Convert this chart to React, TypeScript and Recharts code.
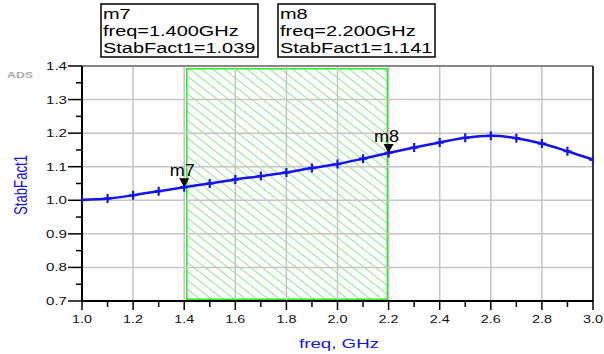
import React from 'react';
import { LineChart, Line, XAxis, YAxis, ReferenceLine, ReferenceArea, ReferenceDot } from 'recharts';

const freqs = [1.0, 1.1, 1.2, 1.3, 1.4, 1.5, 1.6, 1.7, 1.8, 1.9, 2.0, 2.1, 2.2, 2.3, 2.4, 2.5, 2.6, 2.7, 2.8, 2.9, 3.0];
const stabFact = [1.001, 1.005, 1.015, 1.027, 1.039, 1.050, 1.062, 1.072, 1.083, 1.096, 1.108, 1.124, 1.141, 1.157, 1.172, 1.186, 1.192, 1.185, 1.169, 1.146, 1.121];

const markerNames = ['m7', 'm8'];
const markerFreqs = [1.4, 2.2];
const markerValues = [1.039, 1.141];

const xMajorTicks = [1.0, 1.2, 1.4, 1.6, 1.8, 2.0, 2.2, 2.4, 2.6, 2.8, 3.0];
const xMinorTicks = [1.1, 1.3, 1.5, 1.7, 1.9, 2.1, 2.3, 2.5, 2.7, 2.9];
const yMajorTicks = [0.7, 0.8, 0.9, 1.0, 1.1, 1.2, 1.3, 1.4];
const yMinorTicks = [0.75, 0.85, 0.95, 1.05, 1.15, 1.25, 1.35];

const bandX = [1.41, 2.195];
const bandY = [0.705, 1.392];

const data = freqs.map((f, i) => ({ freq: f, stab: stabFact[i] }));
const xTicks = [...xMajorTicks, ...xMinorTicks].sort((a, b) => a - b);
const yTicks = [...yMajorTicks, ...yMinorTicks].sort((a, b) => a - b);

const FONT = '"Liberation Sans", Arial, sans-serif';
const BLUE = '#1414f0';

const isMajor = (arr: number[], v: number) => arr.some((t) => Math.abs(t - v) < 1e-6);

const XTick = (props: any) => {
  const { x, y, payload } = props;
  const v = payload.value as number;
  const major = isMajor(xMajorTicks, v);
  return (
    <g>
      <line x1={x} x2={x} y1={y} y2={y + (major ? 9 : 6)} stroke="#000" strokeWidth={1.5} />
      {major && (
        <text x={x} y={y + 22} textAnchor="middle" fontSize={11} fontFamily={FONT} fill="#111"
          textLength={20} lengthAdjust="spacingAndGlyphs">{v.toFixed(1)}</text>
      )}
    </g>
  );
};

const YTick = (props: any) => {
  const { x, y, payload } = props;
  const v = payload.value as number;
  const major = isMajor(yMajorTicks, v);
  return (
    <g>
      <line x1={x - (major ? 14 : 6)} x2={x} y1={y} y2={y} stroke="#000" strokeWidth={1.5} />
      {major && (
        <text x={x - 15} y={y + 4} textAnchor="end" fontSize={11} fontFamily={FONT} fill="#111"
          textLength={21} lengthAdjust="spacingAndGlyphs">{v.toFixed(1)}</text>
      )}
    </g>
  );
};

const PlusDot = (p: any) => {
  if (p.cx == null || p.cy == null) return <g key={p.index} />;
  return (
    <path key={p.index} d={`M${p.cx - 4},${p.cy}H${p.cx + 4}M${p.cx},${p.cy - 4.5}V${p.cy + 4.5}`}
      stroke={BLUE} strokeWidth={2.2} fill="none" />
  );
};

const markerShape = (name: string) => (p: any) => (
  <g>
    <path d={`M${p.cx},${p.cy} L${p.cx - 5},${p.cy - 9} L${p.cx + 5},${p.cy - 9} Z`} fill="#000" />
    <text x={p.cx - 2} y={p.cy - 11} textAnchor="middle" fontSize={16} fontFamily={FONT} fill="#000"
      textLength={25} lengthAdjust="spacingAndGlyphs">{name}</text>
  </g>
);

const MarkerBox = ({ left, name, freq, value }: { left: number; name: string; freq: number; value: number }) => (
  <g>
    <rect x={left} y={4} width={157} height={53} fill="#fff" stroke="#000" strokeWidth={1.5} />
    <g transform={`translate(${left + 2},0) scale(1.33,1)`} fontFamily={FONT} fontSize={15} fill="#000">
      <text x={0} y={19.5}>{name}</text>
      <text x={0} y={36.5}>{`freq=${freq.toFixed(3)}GHz`}</text>
      <text x={0} y={53}>{`StabFact1=${value.toFixed(3)}`}</text>
    </g>
  </g>
);

export default function App() {
  return (
    <div style={{ position: 'absolute', left: 0, top: 0, width: 604, height: 354, background: '#fff' }}>
      <svg width={0} height={0} style={{ position: 'absolute' }}>
        <defs>
          <pattern id="hatch" patternUnits="userSpaceOnUse" width={7} height={7} patternTransform="rotate(38)">
            <line x1={0} y1={0.5} x2={7} y2={0.5} stroke="#8ee88e" strokeWidth={1} />
          </pattern>
        </defs>
      </svg>
      <LineChart width={604} height={354} data={data} margin={{ top: 66, right: 11, bottom: 0, left: 0 }}>
        <XAxis dataKey="freq" type="number" domain={[1, 3]} ticks={xTicks} interval={0}
          tick={<XTick />} tickLine={false} tickSize={0} tickMargin={0} height={53}
          axisLine={{ stroke: '#000', strokeWidth: 2 }} allowDataOverflow />
        <YAxis type="number" domain={[0.7, 1.4]} ticks={yTicks} interval={0}
          tick={<YTick />} tickLine={false} tickSize={0} tickMargin={0} width={82}
          axisLine={{ stroke: '#000', strokeWidth: 2 }} allowDataOverflow />
        <ReferenceArea x1={bandX[0]} x2={bandX[1]} y1={bandY[0]} y2={bandY[1]}
          fill="url(#hatch)" fillOpacity={1} stroke="#22ee22" strokeWidth={1.5} />
        {xMajorTicks.slice(1, -1).map((t) => (
          <ReferenceLine key={'vx' + t} x={t} stroke="#c4c4c4" strokeWidth={1.5} />
        ))}
        {yMajorTicks.slice(1, -1).map((t) => (
          <ReferenceLine key={'hy' + t} y={t} stroke="#c4c4c4" strokeWidth={1.5} />
        ))}
        <ReferenceLine y={1.4} stroke="#888" strokeWidth={2} />
        <ReferenceLine x={3.0} stroke="#333" strokeWidth={2} />
        <Line type="monotone" dataKey="stab" stroke={BLUE} strokeWidth={2.5} dot={PlusDot}
          activeDot={false} isAnimationActive={false} />
        {markerNames.map((n, i) => (
          <ReferenceDot key={n} x={markerFreqs[i]} y={markerValues[i]} r={0} shape={markerShape(n)} />
        ))}
      </LineChart>
      <svg width={604} height={354} style={{ position: 'absolute', left: 0, top: 0, pointerEvents: 'none' }}>
        <MarkerBox left={101} name={markerNames[0]} freq={markerFreqs[0]} value={markerValues[0]} />
        <MarkerBox left={278} name={markerNames[1]} freq={markerFreqs[1]} value={markerValues[1]} />
        <text x={7} y={77.5} fontSize={8.5} fontWeight="bold" fontFamily={FONT} fill="#a8a8a8"
          textLength={26} lengthAdjust="spacingAndGlyphs">ADS</text>
        <text x={339} y={348} textAnchor="middle" fontSize={13} fontFamily={FONT} fill={BLUE}
          textLength={80} lengthAdjust="spacingAndGlyphs">freq, GHz</text>
        <text transform="translate(27,185) rotate(-90) scale(1,1.35)" x={0} y={0} textAnchor="middle"
          fontSize={14} fontFamily={FONT} fill={BLUE} textLength={60} lengthAdjust="spacingAndGlyphs">StabFact1</text>
      </svg>
    </div>
  );
}
